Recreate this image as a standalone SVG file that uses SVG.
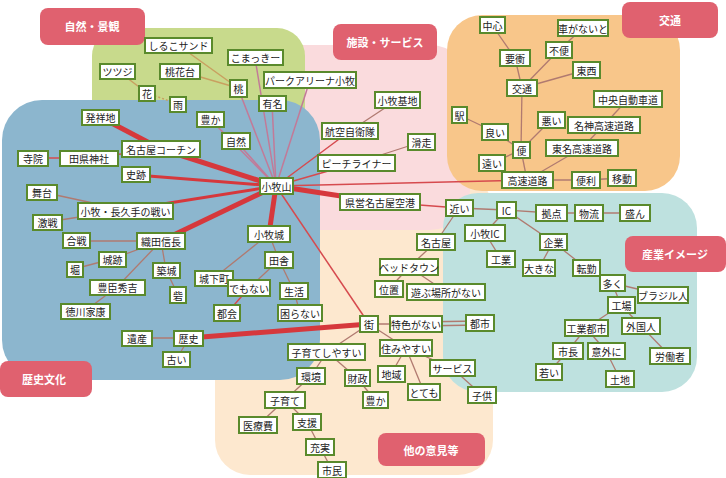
<svg xmlns="http://www.w3.org/2000/svg" width="726" height="478" viewBox="0 0 726 478">
<style>
.n rect{fill:#fff;stroke:#5a8a2c;stroke-width:2}
.n text{font-family:"Noto Sans CJK JP","Noto Sans",sans-serif;font-size:10px;fill:#222;text-anchor:middle;dominant-baseline:central}
.cat rect{fill:#e0616f}
.cat text{font-family:"Noto Sans CJK JP",sans-serif;font-size:11px;font-weight:bold;fill:#fff;text-anchor:middle;dominant-baseline:central}
.c line{fill:none}
.k1{stroke:#d6383c;stroke-width:5}
.k2{stroke:#d6383c;stroke-width:3}
.k3{stroke:#d64a4e;stroke-width:1.5}
.k4{stroke:#c27a98;stroke-width:1.5}
.k5{stroke:#c9a060;stroke-width:1.5}
.k6{stroke:#b07a70;stroke-width:1.3}
</style>
<rect width="726" height="478" fill="#fff"/>
<g id="regions">
<rect x="215" y="175" width="278" height="300" rx="35" fill="#fde8cf"/>
<rect x="190" y="45" width="280" height="185" rx="40" fill="#fadbdd"/>
<rect x="447" y="15" width="233" height="176" rx="35" fill="#f8c68a"/>
<rect x="443" y="193" width="254" height="199" rx="35" fill="#bee1df"/>
<rect x="92" y="28" width="213" height="120" rx="28" fill="#c8da8c"/>
<rect x="2" y="100" width="318" height="280" rx="40" fill="#8cb6ce"/>
</g>
<g id="connectors" class="c">
<line class="k1" x1="276" y1="186" x2="161" y2="149"/>
<line class="k1" x1="161" y1="149" x2="100" y2="117"/>
<line class="k1" x1="276" y1="186" x2="161" y2="241"/>
<line class="k1" x1="276" y1="186" x2="269" y2="234"/>
<line class="k1" x1="276" y1="186" x2="380" y2="202"/>
<line class="k1" x1="189" y1="338" x2="369" y2="324"/>
<line class="k2" x1="276" y1="186" x2="136" y2="175"/>
<line class="k2" x1="276" y1="186" x2="125" y2="210"/>
<line class="k3" x1="276" y1="186" x2="350" y2="131"/>
<line class="k3" x1="276" y1="186" x2="356" y2="163"/>
<line class="k3" x1="276" y1="186" x2="527" y2="180"/>
<line class="k3" x1="276" y1="186" x2="369" y2="324"/>
<line class="k3" x1="161" y1="149" x2="89" y2="158"/>
<line class="k3" x1="89" y1="158" x2="33" y2="158"/>
<line class="k3" x1="380" y1="202" x2="459" y2="208"/>
<line class="k4" x1="276" y1="186" x2="236" y2="141"/>
<line class="k4" x1="276" y1="186" x2="272" y2="103"/>
<line class="k4" x1="276" y1="186" x2="238" y2="88"/>
<line class="k4" x1="276" y1="186" x2="255" y2="58"/>
<line class="k4" x1="276" y1="186" x2="310" y2="80"/>
<line class="k4" x1="276" y1="186" x2="210" y2="119"/>
<line class="k5" x1="238" y1="88" x2="178" y2="45"/>
<line class="k5" x1="238" y1="88" x2="180" y2="71"/>
<line class="k5" x1="147" y1="93" x2="178" y2="104" stroke-dasharray="2 2"/>
<line class="k5" x1="147" y1="93" x2="118" y2="71"/>
<line class="k6" x1="125" y1="210" x2="42" y2="192"/>
<line class="k6" x1="125" y1="210" x2="47" y2="222"/>
<line class="k6" x1="161" y1="241" x2="76" y2="241"/>
<line class="k6" x1="161" y1="241" x2="112" y2="259"/>
<line class="k6" x1="161" y1="241" x2="166" y2="270"/>
<line class="k6" x1="161" y1="241" x2="117" y2="287"/>
<line class="k6" x1="112" y1="259" x2="74" y2="269"/>
<line class="k6" x1="166" y1="270" x2="178" y2="295"/>
<line class="k6" x1="117" y1="287" x2="85" y2="311"/>
<line class="k6" x1="269" y1="234" x2="214" y2="278"/>
<line class="k6" x1="269" y1="234" x2="279" y2="260"/>
<line class="k6" x1="279" y1="260" x2="249" y2="288"/>
<line class="k6" x1="279" y1="260" x2="294" y2="291"/>
<line class="k3" x1="249" y1="288" x2="227" y2="313"/>
<line class="k6" x1="294" y1="291" x2="300" y2="313"/>
<line class="k6" x1="137" y1="338" x2="189" y2="338"/>
<line class="k6" x1="189" y1="338" x2="176" y2="360"/>
<line class="k6" x1="350" y1="131" x2="397" y2="100"/>
<line class="k6" x1="356" y1="163" x2="421" y2="142"/>
<line class="k6" x1="492" y1="25" x2="515" y2="58"/>
<line class="k6" x1="515" y1="58" x2="522" y2="88"/>
<line class="k6" x1="522" y1="88" x2="559" y2="50"/>
<line class="k6" x1="559" y1="50" x2="583" y2="28"/>
<line class="k6" x1="522" y1="88" x2="586" y2="70"/>
<line class="k6" x1="522" y1="88" x2="521" y2="150"/>
<line class="k6" x1="521" y1="150" x2="495" y2="132"/>
<line class="k6" x1="495" y1="132" x2="459" y2="115"/>
<line class="k6" x1="521" y1="150" x2="551" y2="120"/>
<line class="k6" x1="521" y1="150" x2="492" y2="163"/>
<line class="k6" x1="521" y1="150" x2="527" y2="180"/>
<line class="k6" x1="628" y1="99" x2="604" y2="125"/>
<line class="k6" x1="604" y1="125" x2="582" y2="148"/>
<line class="k6" x1="582" y1="148" x2="527" y2="180"/>
<line class="k6" x1="527" y1="180" x2="586" y2="180"/>
<line class="k6" x1="586" y1="180" x2="622" y2="178"/>
<line class="k6" x1="459" y1="208" x2="506" y2="210"/>
<line class="k6" x1="506" y1="210" x2="551" y2="213"/>
<line class="k6" x1="551" y1="213" x2="589" y2="213"/>
<line class="k6" x1="589" y1="213" x2="635" y2="213"/>
<line class="k6" x1="506" y1="210" x2="485" y2="233"/>
<line class="k6" x1="485" y1="233" x2="501" y2="259"/>
<line class="k6" x1="459" y1="208" x2="436" y2="242"/>
<line class="k6" x1="436" y1="242" x2="409" y2="267"/>
<line class="k6" x1="409" y1="267" x2="389" y2="289"/>
<line class="k6" x1="409" y1="267" x2="446" y2="292"/>
<line class="k6" x1="506" y1="210" x2="553" y2="242"/>
<line class="k6" x1="553" y1="242" x2="539" y2="268"/>
<line class="k6" x1="553" y1="242" x2="586" y2="268"/>
<line class="k6" x1="586" y1="268" x2="612" y2="283"/>
<line class="k6" x1="612" y1="283" x2="663" y2="295"/>
<line class="k6" x1="612" y1="283" x2="621" y2="305"/>
<line class="k6" x1="621" y1="305" x2="586" y2="328"/>
<line class="k6" x1="621" y1="305" x2="641" y2="326"/>
<line class="k6" x1="641" y1="326" x2="670" y2="356"/>
<line class="k6" x1="586" y1="328" x2="568" y2="351"/>
<line class="k6" x1="586" y1="328" x2="606" y2="351"/>
<line class="k6" x1="606" y1="351" x2="620" y2="379"/>
<line class="k6" x1="568" y1="351" x2="549" y2="372"/>
<line class="k6" x1="369" y1="324" x2="416" y2="324"/>
<line class="k6" x1="416" y1="322" x2="480" y2="321"/>
<line class="k6" x1="416" y1="326" x2="480" y2="325"/>
<line class="k6" x1="369" y1="324" x2="327" y2="352"/>
<line class="k6" x1="369" y1="324" x2="406" y2="348"/>
<line class="k6" x1="327" y1="352" x2="311" y2="376"/>
<line class="k6" x1="327" y1="352" x2="357" y2="378"/>
<line class="k6" x1="357" y1="378" x2="375" y2="400"/>
<line class="k6" x1="311" y1="376" x2="285" y2="400"/>
<line class="k6" x1="285" y1="400" x2="258" y2="425"/>
<line class="k6" x1="285" y1="400" x2="307" y2="422"/>
<line class="k6" x1="307" y1="422" x2="320" y2="447"/>
<line class="k6" x1="320" y1="447" x2="332" y2="470"/>
<line class="k6" x1="406" y1="348" x2="391" y2="374"/>
<line class="k6" x1="406" y1="348" x2="424" y2="392"/>
<line class="k6" x1="406" y1="348" x2="452" y2="368"/>
<line class="k6" x1="452" y1="368" x2="482" y2="395"/>
</g>
<g id="categories">
<g id="cat-nature" class="cat"><rect x="40" y="8" width="105" height="37" rx="8"/><text x="92" y="26">自然・景観</text></g>
<g id="cat-facility" class="cat"><rect x="333" y="24" width="104" height="36" rx="8"/><text x="385" y="42">施設・サービス</text></g>
<g id="cat-traffic" class="cat"><rect x="622" y="2" width="96" height="36" rx="8"/><text x="670" y="20">交通</text></g>
<g id="cat-industry" class="cat"><rect x="625" y="236" width="101" height="36" rx="8"/><text x="675" y="254">産業イメージ</text></g>
<g id="cat-history" class="cat"><rect x="0" y="361" width="92" height="36" rx="8"/><text x="44" y="379">歴史文化</text></g>
<g id="cat-other" class="cat"><rect x="378" y="433" width="107" height="33" rx="8"/><text x="431" y="450">他の意見等</text></g>
</g>
<g id="nodes">
<g id="n-shiruko" class="n"><rect x="145" y="38" width="67" height="15"/><text x="178.5" y="45.5">しるこサンド</text></g>
<g id="n-komakki" class="n"><rect x="228" y="50" width="55" height="15"/><text x="255.5" y="57.5">こまっきー</text></g>
<g id="n-tsutsuji" class="n"><rect x="100" y="64" width="35" height="15"/><text x="117.5" y="71.5">ツツジ</text></g>
<g id="n-tokadai" class="n"><rect x="160" y="64" width="40" height="15"/><text x="180" y="71.5">桃花台</text></g>
<g id="n-momo" class="n"><rect x="230" y="80" width="17" height="17"/><text x="238.5" y="88.5">桃</text></g>
<g id="n-park" class="n"><rect x="264" y="72" width="92" height="16"/><text x="310" y="80">パークアリーナ小牧</text></g>
<g id="n-hana" class="n"><rect x="139" y="86" width="16" height="15"/><text x="147" y="93.5">花</text></g>
<g id="n-ame" class="n"><rect x="170" y="97" width="16" height="15"/><text x="178" y="104.5">雨</text></g>
<g id="n-yumei" class="n"><rect x="259" y="96" width="27" height="15"/><text x="272.5" y="103.5">有名</text></g>
<g id="n-yutaka" class="n"><rect x="197" y="112" width="27" height="15"/><text x="210.5" y="119.5">豊か</text></g>
<g id="n-shizen" class="n"><rect x="222" y="133" width="28" height="16"/><text x="236" y="141">自然</text></g>
<g id="n-hasshou" class="n"><rect x="82" y="110" width="37" height="15"/><text x="100.5" y="117.5">発祥地</text></g>
<g id="n-cochin" class="n"><rect x="122" y="141" width="78" height="16"/><text x="161" y="149">名古屋コーチン</text></g>
<g id="n-jiin" class="n"><rect x="18" y="151" width="30" height="15"/><text x="33" y="158.5">寺院</text></g>
<g id="n-tagata" class="n"><rect x="60" y="151" width="58" height="15"/><text x="89" y="158.5">田県神社</text></g>
<g id="n-shiseki" class="n"><rect x="122" y="167" width="28" height="15"/><text x="136" y="174.5">史跡</text></g>
<g id="n-butai" class="n"><rect x="27" y="185" width="30" height="15"/><text x="42" y="192.5">舞台</text></g>
<g id="n-sengoku" class="n"><rect x="78" y="203" width="95" height="16"/><text x="125.5" y="211">小牧・長久手の戦い</text></g>
<g id="n-reiseki" class="n"><rect x="33" y="215" width="29" height="15"/><text x="47.5" y="222.5">激戦</text></g>
<g id="n-kassen" class="n"><rect x="63" y="233" width="27" height="15"/><text x="76.5" y="240.5">合戦</text></g>
<g id="n-nobunaga" class="n"><rect x="137" y="233" width="48" height="16"/><text x="161" y="241">織田信長</text></g>
<g id="n-shiroato" class="n"><rect x="99" y="252" width="27" height="15"/><text x="112.5" y="259.5">城跡</text></g>
<g id="n-hori" class="n"><rect x="67" y="262" width="16" height="15"/><text x="75" y="269.5">堀</text></g>
<g id="n-chikujo" class="n"><rect x="153" y="263" width="27" height="15"/><text x="166.5" y="270.5">築城</text></g>
<g id="n-hideyoshi" class="n"><rect x="90" y="280" width="55" height="15"/><text x="117.5" y="287.5">豊臣秀吉</text></g>
<g id="n-toride" class="n"><rect x="170" y="287" width="16" height="16"/><text x="178" y="295">砦</text></g>
<g id="n-ieyasu" class="n"><rect x="61" y="304" width="49" height="15"/><text x="85.5" y="311.5">徳川家康</text></g>
<g id="n-jokamachi" class="n"><rect x="195" y="271" width="38" height="15"/><text x="214" y="278.5">城下町</text></g>
<g id="n-komakijo" class="n"><rect x="248" y="226" width="42" height="16"/><text x="269" y="234">小牧城</text></g>
<g id="n-inaka" class="n"><rect x="265" y="252" width="28" height="16"/><text x="279" y="260">田舎</text></g>
<g id="n-demonai" class="n"><rect x="228" y="280" width="42" height="16"/><text x="249" y="288">でもない</text></g>
<g id="n-seikatsu" class="n"><rect x="280" y="283" width="28" height="16"/><text x="294" y="291">生活</text></g>
<g id="n-tokai" class="n"><rect x="214" y="305" width="26" height="16"/><text x="227" y="313">都会</text></g>
<g id="n-komaranai" class="n"><rect x="278" y="305" width="44" height="16"/><text x="300" y="313">困らない</text></g>
<g id="n-isan" class="n"><rect x="122" y="331" width="30" height="15"/><text x="137" y="338.5">遺産</text></g>
<g id="n-rekishi" class="n"><rect x="174" y="331" width="29" height="15"/><text x="188.5" y="338.5">歴史</text></g>
<g id="n-furui" class="n"><rect x="163" y="352" width="27" height="15"/><text x="176.5" y="359.5">古い</text></g>
<g id="n-komakiyama" class="n"><rect x="260" y="178" width="33" height="16"/><text x="276.5" y="186">小牧山</text></g>
<g id="n-kichi" class="n"><rect x="375" y="92" width="45" height="16"/><text x="397.5" y="100">小牧基地</text></g>
<g id="n-jieitai" class="n"><rect x="322" y="123" width="56" height="16"/><text x="350" y="131">航空自衛隊</text></g>
<g id="n-nanbu" class="n"><rect x="408" y="134" width="27" height="16"/><text x="421.5" y="142">滑走</text></g>
<g id="n-peach" class="n"><rect x="318" y="155" width="77" height="16"/><text x="356.5" y="163">ピーチライナー</text></g>
<g id="n-airport" class="n"><rect x="340" y="194" width="80" height="16"/><text x="380" y="202">県営名古屋空港</text></g>
<g id="n-chushin" class="n"><rect x="480" y="17" width="25" height="16"/><text x="492.5" y="25">中心</text></g>
<g id="n-kuruma" class="n"><rect x="558" y="20" width="50" height="16"/><text x="583" y="28">車がないと</text></g>
<g id="n-fuben" class="n"><rect x="546" y="42" width="26" height="16"/><text x="559" y="50">不便</text></g>
<g id="n-yoshou" class="n"><rect x="500" y="50" width="30" height="16"/><text x="515" y="58">要衝</text></g>
<g id="n-tozai" class="n"><rect x="573" y="62" width="27" height="16"/><text x="586.5" y="70">東西</text></g>
<g id="n-kotsu" class="n"><rect x="507" y="80" width="30" height="16"/><text x="522" y="88">交通</text></g>
<g id="n-chuo" class="n"><rect x="594" y="91" width="68" height="16"/><text x="628" y="99">中央自動車道</text></g>
<g id="n-eki" class="n"><rect x="452" y="107" width="15" height="16"/><text x="459.5" y="115">駅</text></g>
<g id="n-warui" class="n"><rect x="538" y="112" width="27" height="16"/><text x="551.5" y="120">悪い</text></g>
<g id="n-meishin" class="n"><rect x="568" y="117" width="72" height="16"/><text x="604" y="125">名神高速道路</text></g>
<g id="n-yoi" class="n"><rect x="482" y="124" width="26" height="16"/><text x="495" y="132">良い</text></g>
<g id="n-bin" class="n"><rect x="513" y="142" width="17" height="16"/><text x="521.5" y="150">便</text></g>
<g id="n-tomei" class="n"><rect x="546" y="140" width="72" height="16"/><text x="582" y="148">東名高速道路</text></g>
<g id="n-tooi" class="n"><rect x="479" y="155" width="26" height="16"/><text x="492" y="163">遠い</text></g>
<g id="n-kosoku" class="n"><rect x="502" y="172" width="51" height="16"/><text x="527.5" y="180">高速道路</text></g>
<g id="n-benri" class="n"><rect x="572" y="172" width="28" height="16"/><text x="586" y="180">便利</text></g>
<g id="n-ido" class="n"><rect x="608" y="170" width="28" height="16"/><text x="622" y="178">移動</text></g>
<g id="n-chikai" class="n"><rect x="446" y="200" width="27" height="16"/><text x="459.5" y="208">近い</text></g>
<g id="n-ic" class="n"><rect x="497" y="202" width="19" height="16"/><text x="506.5" y="210">IC</text></g>
<g id="n-kyoten" class="n"><rect x="536" y="205" width="31" height="16"/><text x="551.5" y="213">拠点</text></g>
<g id="n-butsuryu" class="n"><rect x="575" y="205" width="28" height="16"/><text x="589" y="213">物流</text></g>
<g id="n-sakan" class="n"><rect x="620" y="205" width="30" height="16"/><text x="635" y="213">盛ん</text></g>
<g id="n-komakiic" class="n"><rect x="465" y="225" width="40" height="16"/><text x="485" y="233">小牧IC</text></g>
<g id="n-nagoya" class="n"><rect x="417" y="234" width="38" height="16"/><text x="436" y="242">名古屋</text></g>
<g id="n-kigyo" class="n"><rect x="540" y="234" width="27" height="16"/><text x="553.5" y="242">企業</text></g>
<g id="n-kogyo" class="n"><rect x="487" y="251" width="28" height="16"/><text x="501" y="259">工業</text></g>
<g id="n-okina" class="n"><rect x="523" y="260" width="32" height="16"/><text x="539" y="268">大きな</text></g>
<g id="n-tenkin" class="n"><rect x="573" y="260" width="27" height="16"/><text x="586.5" y="268">転勤</text></g>
<g id="n-bedtown" class="n"><rect x="380" y="259" width="58" height="16"/><text x="409" y="267">ベッドタウン</text></g>
<g id="n-ichi" class="n"><rect x="375" y="281" width="28" height="16"/><text x="389" y="289">位置</text></g>
<g id="n-asobu" class="n"><rect x="407" y="284" width="78" height="16"/><text x="446" y="292">遊ぶ場所がない</text></g>
<g id="n-ooku" class="n"><rect x="600" y="275" width="25" height="16"/><text x="612.5" y="283">多く</text></g>
<g id="n-brazil" class="n"><rect x="638" y="287" width="50" height="16"/><text x="663" y="295">ブラジル人</text></g>
<g id="n-kojo" class="n"><rect x="608" y="297" width="27" height="16"/><text x="621.5" y="305">工場</text></g>
<g id="n-kogyotoshi" class="n"><rect x="565" y="320" width="43" height="16"/><text x="586.5" y="328">工業都市</text></g>
<g id="n-gaikoku" class="n"><rect x="622" y="318" width="38" height="16"/><text x="641" y="326">外国人</text></g>
<g id="n-shicho" class="n"><rect x="553" y="343" width="30" height="16"/><text x="568" y="351">市長</text></g>
<g id="n-igai" class="n"><rect x="588" y="343" width="37" height="16"/><text x="606.5" y="351">意外に</text></g>
<g id="n-rodo" class="n"><rect x="650" y="348" width="40" height="16"/><text x="670" y="356">労働者</text></g>
<g id="n-wakai" class="n"><rect x="536" y="364" width="26" height="16"/><text x="549" y="372">若い</text></g>
<g id="n-tochi" class="n"><rect x="606" y="371" width="28" height="16"/><text x="620" y="379">土地</text></g>
<g id="n-machi" class="n"><rect x="360" y="316" width="18" height="16"/><text x="369" y="324">街</text></g>
<g id="n-tokushoku" class="n"><rect x="390" y="316" width="52" height="16"/><text x="416" y="324">特色がない</text></g>
<g id="n-toshi" class="n"><rect x="466" y="315" width="28" height="16"/><text x="480" y="323">都市</text></g>
<g id="n-kosodateyasui" class="n"><rect x="288" y="344" width="77" height="16"/><text x="326.5" y="352">子育てしやすい</text></g>
<g id="n-sumiyasui" class="n"><rect x="380" y="340" width="52" height="16"/><text x="406" y="348">住みやすい</text></g>
<g id="n-kankyo" class="n"><rect x="297" y="368" width="28" height="16"/><text x="311" y="376">環境</text></g>
<g id="n-zaisei" class="n"><rect x="345" y="370" width="25" height="16"/><text x="357.5" y="378">財政</text></g>
<g id="n-chiiki" class="n"><rect x="378" y="366" width="27" height="16"/><text x="391.5" y="374">地域</text></g>
<g id="n-service" class="n"><rect x="430" y="360" width="45" height="16"/><text x="452.5" y="368">サービス</text></g>
<g id="n-kosodate" class="n"><rect x="265" y="392" width="40" height="16"/><text x="285" y="400">子育て</text></g>
<g id="n-yutaka2" class="n"><rect x="363" y="392" width="25" height="16"/><text x="375.5" y="400">豊か</text></g>
<g id="n-totemo" class="n"><rect x="408" y="384" width="32" height="16"/><text x="424" y="392">とても</text></g>
<g id="n-kodomo" class="n"><rect x="468" y="387" width="28" height="16"/><text x="482" y="395">子供</text></g>
<g id="n-iryohi" class="n"><rect x="239" y="417" width="38" height="16"/><text x="258" y="425">医療費</text></g>
<g id="n-shien" class="n"><rect x="293" y="414" width="28" height="16"/><text x="307" y="422">支援</text></g>
<g id="n-jujitsu" class="n"><rect x="306" y="439" width="28" height="16"/><text x="320" y="447">充実</text></g>
<g id="n-shimin" class="n"><rect x="318" y="462" width="28" height="16"/><text x="332" y="470">市民</text></g>
</g>
</svg>
